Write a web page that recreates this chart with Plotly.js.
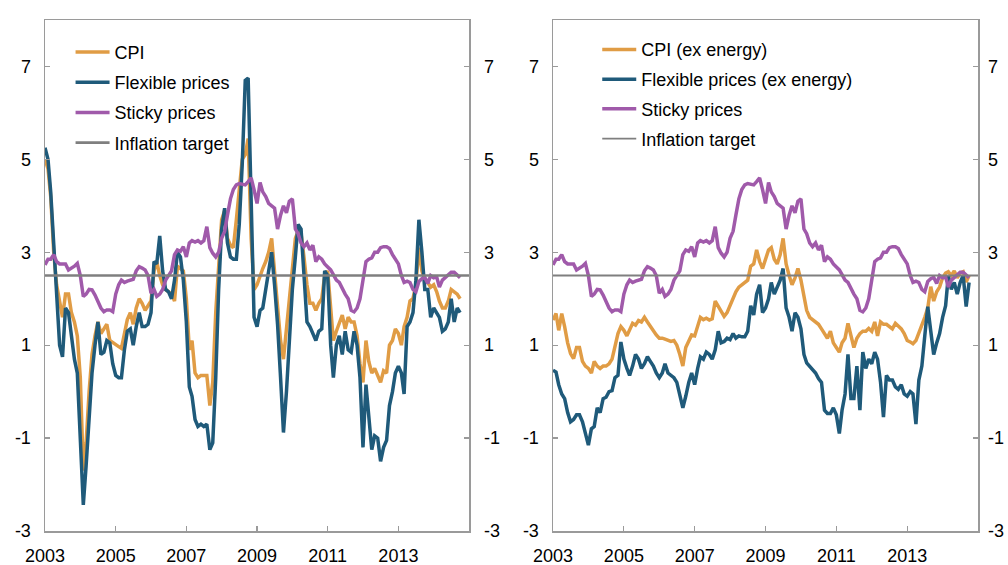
<!DOCTYPE html>
<html>
<head>
<meta charset="utf-8">
<script src="https://cdn.plot.ly/plotly-3.0.1.min.js"></script>
<style>html,body{margin:0;padding:0;background:#fff;}#chart{width:1008px;height:565px;}</style>
</head>
<body>
<div id="chart"></div>
<script>
// ---------- categories ----------
const startYear = 2003;
const nMonths = 142; // Jan 2003 .. Oct 2014
const months = [];
for (let i = 0; i < nMonths; i++) {
  const y = startYear + Math.floor(i / 12);
  const m = (i % 12) + 1;
  months.push(y + '-' + (m < 10 ? '0' + m : m) + '-01');
}
const xRange = ['2003-01-01', '2015-01-01'];
const xTickVals = ['2003-01-01', '2005-01-01', '2007-01-01', '2009-01-01', '2011-01-01', '2013-01-01'];
const xTickText = ['2003', '2005', '2007', '2009', '2011', '2013'];
const yTickVals = [-3, -1, 1, 3, 5, 7];
const yTickText = ['-3', '-1', '1', '3', '5', '7'];
const inflationTarget = 2.5;

// ---------- left panel series ----------
const cpi = [
  5.0, 4.8, 4.2, 3.0, 2.3, 1.9, 1.6, 2.1, 2.1, 1.7,
  1.5, 1.2, 0.3, -1.7, -1.1, 0.0, 0.8, 1.2, 1.5, 1.25,
  1.35, 1.45, 1.1, 1.05, 1.0, 0.97, 0.93, 1.3, 1.55, 1.7,
  1.45, 1.8, 2.0, 1.9, 1.75, 1.85, 1.95, 2.6, 2.8, 2.5,
  2.3, 2.2, 2.15, 2.1, 1.95, 2.7, 2.65, 2.6, 2.0, 0.9,
  1.1, 0.4, 0.3, 0.35, 0.35, 0.35, -0.3, 0.2, 1.7, 2.8,
  3.7, 3.9, 3.3, 3.15, 3.1, 3.7, 4.4, 5.0, 5.1, 5.45,
  3.3, 2.2, 2.3, 2.5, 2.65, 2.8, 3.0, 3.3, 2.6, 1.9,
  1.1, 0.7, 1.4, 2.1, 2.8, 3.3, 3.45, 3.4, 2.9, 2.3,
  1.9, 1.9, 1.75, 1.9, 2.0, 2.5, 2.6, 1.8, 1.1, 1.3,
  1.5, 1.65, 1.35, 1.6, 1.5, 1.5, 1.2, 0.6, 0.2, 1.1,
  0.65, 0.4, 0.5, 0.35, 0.2, 0.45, 0.4, 1.0, 1.1, 1.35,
  1.25, 1.0, 1.4, 1.6, 1.95, 2.0, 2.3, 3.1, 2.6, 2.4,
  2.35, 2.25, 2.3, 2.15, 1.95, 1.8, 1.8, 1.95, 2.2, 2.15,
  2.1, 2.0
];
const flexible = [
  5.25, 5.0, 4.3, 3.2, 1.9, 1.0, 0.75, 1.8, 1.7, 1.2,
  0.7, 0.4, -1.2, -2.44, -1.6, -0.5, 0.4, 1.0, 1.5, 0.8,
  0.85, 1.1, 1.05, 0.6, 0.35, 0.3, 0.3, 0.9, 1.3, 1.35,
  1.0, 1.4, 1.7, 1.4, 1.4, 1.45, 1.7, 2.8, 2.75, 3.35,
  2.6, 2.2, 2.15, 2.0, 2.4, 3.0, 2.9, 2.4, 1.5, 0.1,
  -0.1, -0.6, -0.75, -0.7, -0.75, -0.7, -1.25, -1.1, 0.3, 2.2,
  3.5, 3.95, 3.2, 2.9, 2.85, 2.85, 3.6, 4.9, 6.7, 6.75,
  4.3, 1.6, 1.4, 1.75, 1.8, 2.2, 2.5, 3.0, 2.3, 1.45,
  0.3, -0.88, 0.0, 1.1, 2.2, 2.9, 3.6, 3.5, 2.4, 1.5,
  1.4, 1.25, 1.1, 1.3, 1.35, 2.6, 2.5, 1.0, 0.3, 1.0,
  1.2, 0.8, 1.3, 0.9, 0.85, 1.3, 1.0, 0.3, -1.2, 0.15,
  -0.6, -1.25, -0.95, -1.0, -1.5, -1.2, -1.05, -0.3, 0.0, 0.4,
  0.55, 0.4, -0.05, 1.4, 1.5, 1.7, 2.4, 3.7, 3.0, 2.2,
  2.2, 1.6, 1.8, 1.7, 1.6, 1.3, 1.35, 1.5, 2.0, 1.5,
  1.8, 1.7
];
const sticky = [
  2.73, 2.85, 2.85, 2.95, 2.8, 2.75, 2.75, 2.75, 2.62, 2.65,
  2.7, 2.76, 2.5, 2.05, 2.1, 2.2, 2.19, 2.08, 1.95, 1.8,
  1.72, 1.76, 1.76, 1.72, 2.1, 2.3, 2.4, 2.35, 2.38, 2.4,
  2.42, 2.6, 2.69, 2.66, 2.62, 2.5, 2.12, 2.2, 2.05, 2.1,
  2.2, 2.4, 2.5, 2.6, 2.95, 3.05, 3.02, 3.12, 2.9, 3.2,
  3.25, 3.22, 3.25, 3.2, 3.25, 3.55, 3.1, 2.98, 2.9, 3.0,
  3.3, 3.45, 3.8, 4.15, 4.35, 4.45, 4.48, 4.47, 4.45, 4.52,
  4.6, 4.35, 4.05, 4.5, 4.3, 4.2, 4.05, 4.0, 3.95, 3.5,
  3.8, 4.0, 3.85, 4.1, 4.15, 3.5, 3.4, 3.2, 3.12, 3.2,
  3.05, 3.15, 2.8, 2.9, 2.85, 2.75, 2.68, 2.62, 2.52, 2.4,
  2.35, 2.2, 2.1, 2.0, 1.75, 1.72, 1.8, 2.0, 2.45, 2.8,
  2.85, 2.88, 3.0, 3.0, 3.1, 3.12, 3.12, 3.08, 2.95, 2.85,
  2.75, 2.5, 2.35, 2.38, 2.35, 2.2, 2.15, 2.37, 2.43, 2.46,
  2.33, 2.5, 2.45, 2.47, 2.25, 2.4, 2.45, 2.5, 2.57, 2.57,
  2.5, 2.45
];

// ---------- right panel series ----------
const cpiExEnergy = [
  1.54, 1.68, 1.32, 1.68, 1.4, 1.05, 0.82, 0.71, 0.95, 0.95,
  0.65, 0.55, 0.5, 0.4, 0.65, 0.55, 0.5, 0.55, 0.55, 0.6,
  0.7, 0.95, 1.25, 1.4, 1.32, 1.2, 1.32, 1.47, 1.43, 1.53,
  1.5, 1.6, 1.5, 1.4, 1.32, 1.22, 1.15, 1.15, 1.13, 1.1,
  1.08, 1.1, 1.0, 0.8, 0.55, 0.95, 1.1, 1.22, 1.2, 1.4,
  1.6, 1.55, 1.58, 1.54, 1.57, 1.95, 1.85, 1.75, 1.62, 1.7,
  1.85, 2.0, 2.15, 2.25, 2.3, 2.33, 2.4, 2.7, 2.75, 3.05,
  2.8, 2.65, 2.85, 3.05, 3.1, 2.85, 2.75, 2.95, 3.3, 2.75,
  2.5, 2.3, 2.45, 2.65, 2.4, 2.1, 1.75, 1.6, 1.55, 1.5,
  1.45, 1.35, 1.25, 1.15, 1.3, 1.05, 0.95, 0.85, 1.05, 1.15,
  1.47, 1.2, 0.95, 1.15, 1.25, 1.3, 1.3, 1.36, 1.3, 1.5,
  1.2, 1.5, 1.45, 1.45, 1.4, 1.35, 1.47, 1.4, 1.35, 1.25,
  1.1, 1.07, 1.03, 1.1, 1.25, 1.45, 1.6, 1.8, 2.26, 1.95,
  2.15, 2.25, 2.45, 2.55, 2.58, 2.5, 2.6, 2.45, 2.55, 2.58,
  2.36, 2.5
];
const flexibleExEnergy = [
  0.46, 0.42, 0.15, -0.05, -0.15, -0.45, -0.65, -0.6, -0.5, -0.5,
  -0.65, -0.9, -1.15, -0.8, -0.75, -0.35, -0.45, -0.15, -0.12, 0.0,
  0.02, 0.3, 0.35, 1.07, 0.7, 0.5, 0.35, 0.55, 0.8, 0.7,
  0.5, 0.6, 0.75, 0.65, 0.55, 0.4, 0.3, 0.4, 0.6, 0.4,
  0.35, 0.3, 0.2, -0.05, -0.35, -0.1, 0.2, 0.4, 0.15, 0.5,
  0.75, 0.7, 0.85, 0.8, 0.7, 0.9, 1.3, 1.05, 1.08, 1.15,
  1.12, 1.25, 1.15, 1.2, 1.18, 1.18, 1.3, 1.85, 1.65, 2.1,
  2.3, 1.7, 1.8, 2.0, 2.35, 2.1, 2.25, 2.4, 2.65, 1.8,
  1.6, 1.3, 1.7, 1.6, 1.35, 0.8, 0.62, 0.55, 0.46, 0.4,
  0.28, 0.2, -0.4, -0.47, -0.47, -0.35, -0.5, -0.9, -0.4, -0.05,
  0.8, -0.15, -0.15, 0.55, -0.4, 0.85, 0.5, 0.7, 0.6, 0.85,
  0.7, 0.2, -0.55, 0.35, 0.25, 0.25, 0.1, 0.05, 0.15, -0.05,
  -0.1, 0.0, -0.05, -0.7, 0.25, 0.55, 1.2, 1.83, 1.3, 0.8,
  1.05, 1.25, 1.6, 1.85, 2.5, 2.2, 2.35, 2.1, 2.35, 2.5,
  1.83, 2.35
];

// ---------- styles ----------
const FONT = '"Liberation Sans", Arial, Helvetica, sans-serif';
const C_CPI = '#E09C45';
const C_FLEX = '#1F5A7A';
const C_STICKY = '#A05AAA';
const C_TARGET = '#7F7F7F';
const LW = 3.5;

function series(name, y, color, xa, ya, leg, grp, width) {
  return {
    type: 'scatter', mode: 'lines', name: name, x: months, y: y,
    xaxis: xa, yaxis: ya, legend: leg, legendgroup: grp,
    line: {color: color, width: width || LW},
    hoverinfo: 'x+y+name'
  };
}
function target(xa, ya, leg, grp, width) {
  return {
    type: 'scatter', mode: 'lines', name: 'Inflation target',
    x: xRange, y: [inflationTarget, inflationTarget],
    xaxis: xa, yaxis: ya, legend: leg, legendgroup: grp,
    line: {color: C_TARGET, width: width}
  };
}

const data = [
  series('CPI', cpi, C_CPI, 'x', 'y', 'legend', 'a'),
  series('Flexible prices', flexible, C_FLEX, 'x', 'y', 'legend', 'b'),
  series('Sticky prices', sticky, C_STICKY, 'x', 'y', 'legend', 'c'),
  target('x', 'y', 'legend', 'd', 2.6),
  series('CPI (ex energy)', cpiExEnergy, C_CPI, 'x2', 'y3', 'legend2', 'e'),
  series('Flexible prices (ex energy)', flexibleExEnergy, C_FLEX, 'x2', 'y3', 'legend2', 'f'),
  series('Sticky prices', sticky, C_STICKY, 'x2', 'y3', 'legend2', 'g'),
  target('x2', 'y3', 'legend2', 'h', 1.8)
];

const AX_LINE = '#9a9a9a';
function xAxis(domain, anchor) {
  return {
    domain: domain, anchor: anchor, type: 'date', range: xRange,
    tickmode: 'array', tickvals: xTickVals, ticktext: xTickText,
    ticks: 'inside', ticklen: 5, tickwidth: 1.2, tickcolor: AX_LINE,
    showline: true, linecolor: AX_LINE, linewidth: 1.5, mirror: true,
    showgrid: false, zeroline: false, ticklabelstandoff: 8,
    tickfont: {family: FONT, size: 18, color: '#000'}
  };
}
function yAxisMain(anchor) {
  return {
    anchor: anchor, domain: [0, 1], range: [-3, 8],
    tickmode: 'array', tickvals: yTickVals, ticktext: yTickText,
    ticks: 'inside', ticklen: 5, tickwidth: 1.2, tickcolor: AX_LINE,
    showline: true, linecolor: AX_LINE, linewidth: 1.5, mirror: 'ticks',
    showgrid: false, zeroline: false, ticklabelstandoff: 9,
    tickfont: {family: FONT, size: 18, color: '#000'}
  };
}
function yAxisRight(over, anchor, standoff) {
  return {
    overlaying: over, anchor: anchor, side: 'right', range: [-3, 8],
    tickmode: 'array', tickvals: yTickVals, ticktext: yTickText,
    ticks: '', showline: false, showgrid: false, zeroline: false,
    ticklabelstandoff: standoff,
    tickfont: {family: FONT, size: 18, color: '#000'}
  };
}
function legendAt(x, y, gap) {
  return {
    x: x, y: y, xanchor: 'left', yanchor: 'top', xref: 'paper', yref: 'paper',
    bgcolor: 'rgba(0,0,0,0)', borderwidth: 0,
    font: {family: FONT, size: 18, color: '#000'},
    traceorder: 'grouped', tracegroupgap: gap, itemwidth: 34
  };
}

const layout = {
  width: 1008, height: 565,
  margin: {l: 0, r: 0, t: 20, b: 34, pad: 0},
  paper_bgcolor: '#fff', plot_bgcolor: '#fff',
  font: {family: FONT, size: 18, color: '#000'},
  showlegend: true,
  xaxis: xAxis([45 / 1008, 469 / 1008], 'y'),
  yaxis: yAxisMain('x'),
  yaxis2: yAxisRight('y', 'x', 14),
  xaxis2: xAxis([553 / 1008, 978 / 1008], 'y3'),
  yaxis3: yAxisMain('x2'),
  yaxis4: yAxisRight('y3', 'x2', 9),
  legend: legendAt(0.07, 0.973, 3.8),
  legend2: legendAt(0.5925, 0.978, 3.3)
};

// empty traces so the right-hand label axes are drawn
data.push({type: 'scatter', x: [], y: [], xaxis: 'x', yaxis: 'y2', showlegend: false, hoverinfo: 'skip'});
data.push({type: 'scatter', x: [], y: [], xaxis: 'x2', yaxis: 'y4', showlegend: false, hoverinfo: 'skip'});

Plotly.newPlot('chart', data, layout, {staticPlot: true, displayModeBar: false});
</script>
</body>
</html>
